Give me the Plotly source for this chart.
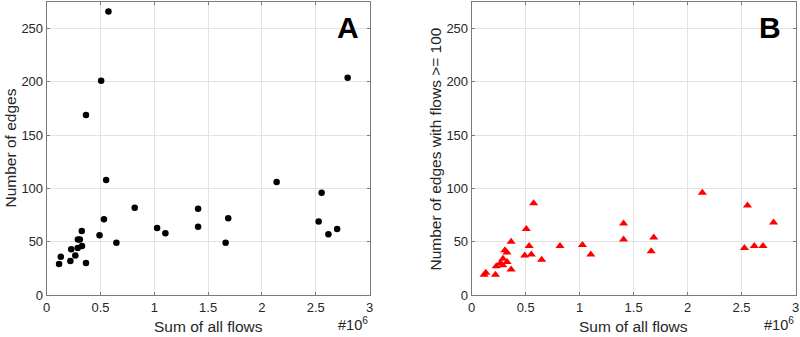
import plotly.graph_objects as go

# Sum of all flows (in units of 10^6)
sum_flows = [0.574, 0.506, 0.365, 0.552, 0.818, 1.407, 1.407, 0.532, 0.326, 1.026,
             1.103, 0.491, 0.290, 0.308, 0.648, 0.328, 0.288, 0.228, 0.266, 0.131,
             0.220, 0.115, 0.365, 2.797, 2.137, 2.555, 1.687, 2.527, 2.699, 2.618, 1.663]
# Number of edges
num_edges = [266, 201, 169, 108, 82, 81, 64, 71, 60, 63,
             58, 56, 52, 52, 49, 46, 44, 43, 37, 36,
             32, 29, 30, 204, 106, 96, 72, 69, 62, 57, 49]
# Number of edges with flows >= 100
num_edges_100 = [86, 62, 50, 38, 46, 67, 52, 46, 40, 47,
                 38, 37, 34, 42, 33, 31, 28, 27, 30, 21,
                 19, 19, 24, 68, 96, 84, 54, 44, 46, 46, 41]

x_ticks = [0, 0.5, 1, 1.5, 2, 2.5, 3]
x_tick_labels = ["0", "0.5", "1", "1.5", "2", "2.5", "3"]
y_ticks = [0, 50, 100, 150, 200, 250]

W, H = 800, 337
ax_left_A, ax_right_A = 46.7, 369.5
ax_left_B, ax_right_B = 471.7, 795.5
ax_top, ax_bottom = 2, 295

FONT = "Liberation Sans, Arial, Helvetica, sans-serif"
TXT = "#262626"
LINE = "#7a7a7a"
GRID = "#e3e3e3"

fig = go.Figure()
fig.add_trace(go.Scatter(x=sum_flows, y=num_edges, mode="markers",
                         marker=dict(symbol="circle", size=6.5, color="black"),
                         xaxis="x", yaxis="y", showlegend=False))
fig.add_trace(go.Scatter(x=sum_flows, y=num_edges_100, mode="markers",
                         marker=dict(symbol="triangle-up", size=8, color="#ff0000"),
                         xaxis="x2", yaxis="y2", showlegend=False))

def xa(dom):
    return dict(domain=dom, range=[0, 3], tickvals=x_ticks, ticktext=x_tick_labels,
                showgrid=True, gridcolor=GRID, gridwidth=1, zeroline=False,
                showline=True, linecolor=LINE, linewidth=1, mirror="ticks",
                ticks="inside", ticklen=3, tickcolor=LINE,
                tickfont=dict(family=FONT, size=13, color=TXT), automargin=False,
                fixedrange=True)

def ya(dom, anchor):
    return dict(domain=dom, range=[0, 275], tickvals=y_ticks,
                showgrid=True, gridcolor=GRID, gridwidth=1, zeroline=False,
                showline=True, linecolor=LINE, linewidth=1, mirror="ticks",
                ticks="inside", ticklen=3, tickcolor=LINE, anchor=anchor,
                tickfont=dict(family=FONT, size=13, color=TXT), automargin=False,
                fixedrange=True)

ydom = [1 - ax_bottom / H, 1 - ax_top / H]
fig.update_layout(
    width=W, height=H, margin=dict(l=0, r=0, t=0, b=0),
    paper_bgcolor="white", plot_bgcolor="white",
    xaxis=dict(xa([ax_left_A / W, ax_right_A / W]), anchor="y"),
    yaxis=ya(ydom, "x"),
    xaxis2=dict(xa([ax_left_B / W, ax_right_B / W]), anchor="y2"),
    yaxis2=ya(ydom, "x2"),
)

def px(x):
    return x / W

def py(y):
    return 1 - y / H

ann = []
title_font = dict(family=FONT, size=15.5, color=TXT)
# x titles
for l, r in ((ax_left_A, ax_right_A), (ax_left_B, ax_right_B)):
    ann.append(dict(text="Sum of all flows", x=px((l + r) / 2), y=py(326),
                    xref="paper", yref="paper", showarrow=False, font=title_font,
                    xanchor="center", yanchor="middle"))
# y titles
ann.append(dict(text="Number of edges", x=px(10), y=py((ax_top + ax_bottom) / 2),
                xref="paper", yref="paper", showarrow=False, font=title_font,
                textangle=-90, xanchor="center", yanchor="middle"))
ann.append(dict(text="Number of edges with flows >= 100", x=px(435), y=py((ax_top + ax_bottom) / 2),
                xref="paper", yref="paper", showarrow=False, font=title_font,
                textangle=-90, xanchor="center", yanchor="middle"))
# exponent labels
for xr in (ax_right_A, ax_right_B):
    ann.append(dict(text="#10<sup>6</sup>", x=px(xr), y=py(324),
                    xref="paper", yref="paper", showarrow=False,
                    font=dict(family=FONT, size=14.5, color=TXT),
                    xanchor="right", yanchor="middle"))
# panel letters
ann.append(dict(text="<b>A</b>", x=px(348), y=py(28), xref="paper", yref="paper",
                showarrow=False, font=dict(family=FONT, size=30, color="black"),
                xanchor="center", yanchor="middle"))
ann.append(dict(text="<b>B</b>", x=px(770), y=py(28), xref="paper", yref="paper",
                showarrow=False, font=dict(family=FONT, size=30, color="black"),
                xanchor="center", yanchor="middle"))
fig.update_layout(annotations=ann)

fig.write_html("out.html", config={"displayModeBar": False},
               post_script="document.body.style.margin='0';document.body.style.overflow='hidden';")
